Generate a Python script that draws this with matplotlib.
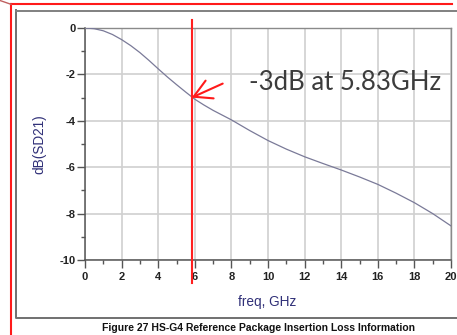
import matplotlib
matplotlib.use("Agg")
import matplotlib.pyplot as plt
from matplotlib.lines import Line2D
from matplotlib.ticker import MultipleLocator

# ---- data ----
freq_ghz = [0, 0.5, 1, 1.5, 2, 2.5, 3, 3.5, 4, 4.5, 5, 5.5, 6, 6.5, 7, 8, 9, 10, 11, 12,
            13, 14, 15, 16, 17, 18, 19, 20]
sd21_db = [0.0, -0.03, -0.12, -0.28, -0.50, -0.76, -1.06, -1.40, -1.76, -2.11, -2.44,
           -2.76, -3.07, -3.32, -3.55, -3.96, -4.42, -4.85, -5.22, -5.55,
           -5.84, -6.12, -6.42, -6.74, -7.12, -7.53, -8.00, -8.53]
marker_freq = 5.83
marker_db = -3.0
xticks = [0, 2, 4, 6, 8, 10, 12, 14, 16, 18, 20]
yticks = [0, -2, -4, -6, -8, -10]
annotation_text = "-3dB at 5.83GHz"
xlabel = "freq, GHz"
ylabel = "dB(SD21)"
caption = "Figure 27 HS-G4 Reference Package Insertion Loss Information"

W, H = 457, 335
fig = plt.figure(figsize=(W / 100, H / 100), dpi=100)
fig.patch.set_facecolor("white")

def fx(px):
    return px / W

def fy(py):
    return 1 - py / H

# outer frames
fig.add_artist(Line2D([fx(16), fx(16), fx(460)], [fy(10), fy(318), fy(318)],
                      transform=fig.transFigure, color="#707070", lw=1.4))
fig.add_artist(Line2D([fx(16), fx(460)], [fy(10.5), fy(10.5)],
                      transform=fig.transFigure, color="#808080", lw=1.4))
fig.add_artist(Line2D([fx(11), fx(11)], [fy(4), fy(340)],
                      transform=fig.transFigure, color="#ff1a1a", lw=1.5))
fig.add_artist(Line2D([fx(11), fx(452)], [fy(4.3), fy(4.3)],
                      transform=fig.transFigure, color="#ff1a1a", lw=1.5))
fig.add_artist(Line2D([fx(0), fx(11)], [fy(0.5), fy(4.3)],
                      transform=fig.transFigure, color="#c06060", lw=1.0))

ax = fig.add_axes([fx(85), fy(260), fx(451) - fx(85), fy(28) - fy(260)])
ax.set_xlim(0, 20)
ax.set_ylim(-10, 0)
ax.plot(freq_ghz, sd21_db, color="#7a7a98", lw=0.9, zorder=3)

ax.set_xticks(xticks)
ax.set_yticks(yticks)
ax.xaxis.set_minor_locator(MultipleLocator(1))
ax.yaxis.set_minor_locator(MultipleLocator(1))
ax.grid(True, which="major", color="#d0d0d0", lw=1.2)
ax.set_axisbelow(True)

tick_font = dict(family="Liberation Sans", weight="bold", size=8)
ax.set_xticklabels([str(t) for t in xticks], fontdict=tick_font, color="#222222")
ax.set_yticklabels([str(t) for t in yticks], fontdict=tick_font, color="#222222")
ax.tick_params(which="major", direction="out", length=6, width=1.0, color="#555555")
ax.tick_params(which="minor", direction="out", length=3, width=1.0, color="#555555")
ax.tick_params(axis="x", pad=3)
ax.tick_params(axis="y", pad=1)

for s in ["left", "bottom"]:
    ax.spines[s].set_color("#555555")
    ax.spines[s].set_linewidth(1.1)
for s in ["top", "right"]:
    ax.spines[s].set_color("#8a8a8a")
    ax.spines[s].set_linewidth(1.0)

ax.set_facecolor("white")

# red marker line and arrow
ax.plot([marker_freq, marker_freq], [0.35, -10.99], color="#ff2020", lw=1.5,
        clip_on=False, zorder=5)
ax.annotate("", xy=(marker_freq, marker_db), xytext=(31, 14), textcoords="offset pixels",
            arrowprops=dict(arrowstyle="->,head_length=12.6,head_width=7", mutation_scale=1,
                            color="#ff1a1a", lw=1.5, shrinkA=0, shrinkB=0),
            zorder=6, annotation_clip=False)

fig.text(fx(249), fy(82), annotation_text, family="Lato", size=18.5, color="#3c3c3c",
         ha="left", va="center")

fig.text(fx(267), fy(302), xlabel, family="Liberation Sans", size=9.8, color="#303078",
         ha="center", va="center")
fig.text(fx(39), fy(144), ylabel, family="Liberation Sans", size=9.8, color="#303078",
         ha="center", va="center", rotation=90)
fig.text(fx(259), fy(328), caption, family="Liberation Sans", weight="bold", size=7.45,
         color="#111111", ha="center", va="center")

fig.savefig("out.png", dpi=100)
